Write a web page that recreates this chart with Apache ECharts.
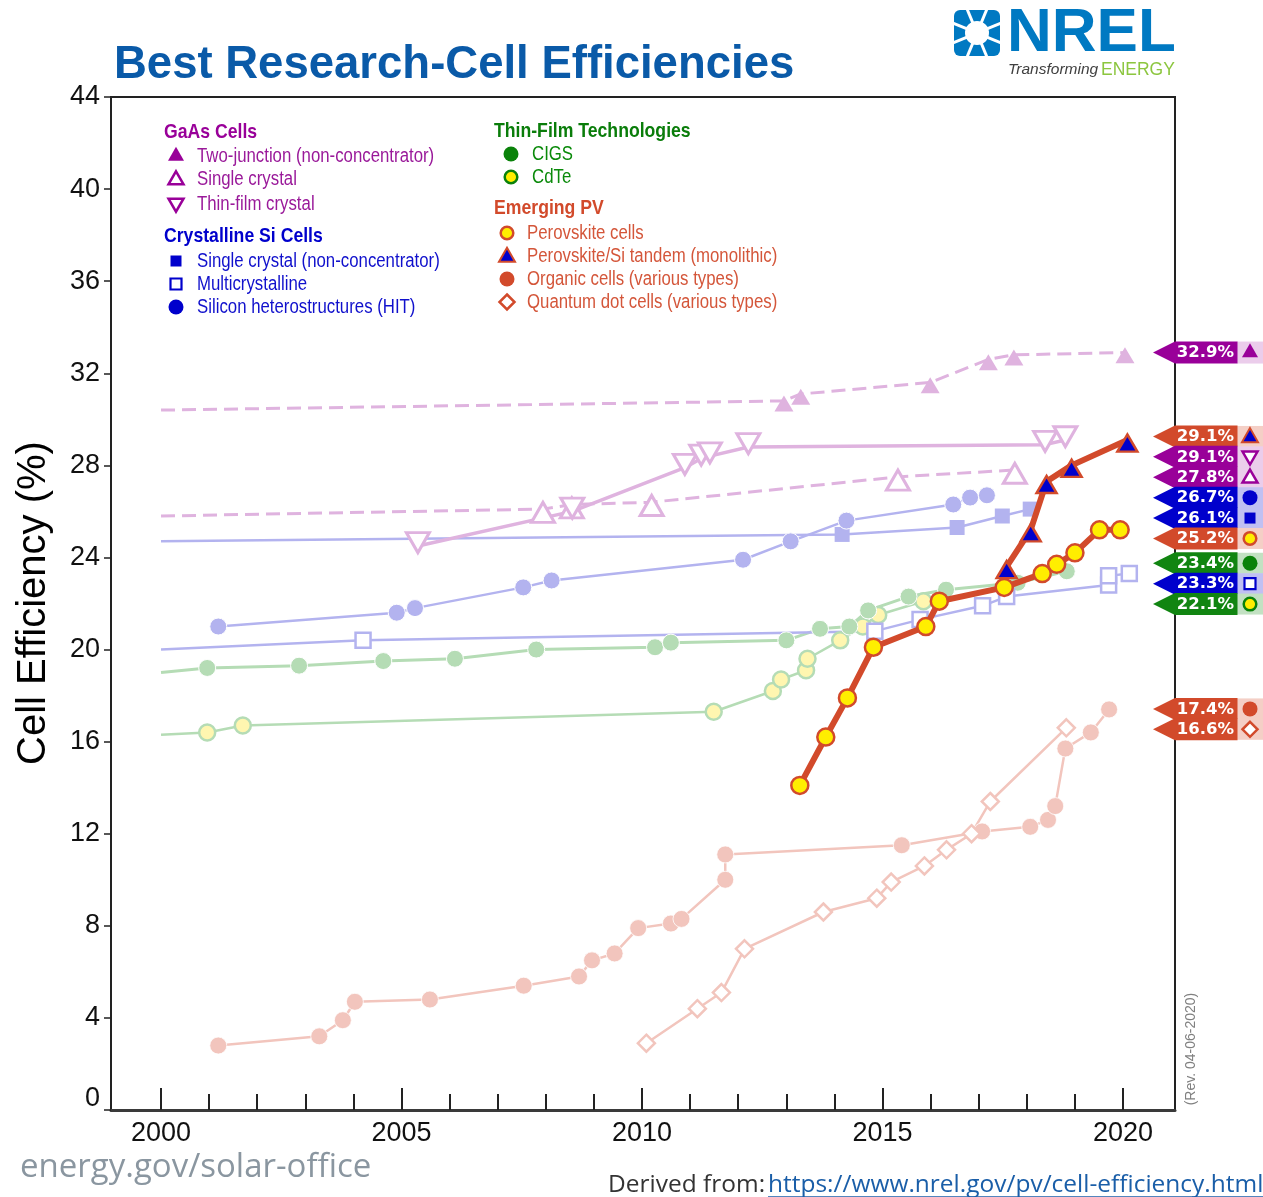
<!DOCTYPE html>
<html><head><meta charset="utf-8">
<script src="https://cdn.jsdelivr.net/npm/echarts@6/dist/echarts.min.js"></script>
<style>html,body{margin:0;padding:0;background:#fff}#main{width:1263px;height:1197px}</style>
</head><body><div id="main"></div>
<script>
// ---------------- data ----------------
const gaas2jYears = [2000, 2012.95, 2013.3, 2015.99, 2017.2, 2017.73, 2020.04];
const gaas2jEff   = [30.4, 30.8, 31.1, 31.6, 32.6, 32.8, 32.9];
const gaas1cYears = [2000, 2007.94, 2008.54, 2010.2, 2015.32, 2017.75];
const gaas1cEff   = [25.8, 26.1, 26.3, 26.4, 27.5, 27.8];
const gaastfYears = [2005.34, 2008.55, 2010.89, 2011.23, 2011.41, 2012.21, 2018.38, 2018.8];
const gaastfEff   = [24.5, 26.0, 27.9, 28.3, 28.4, 28.8, 28.9, 29.1];
const siscYears   = [2000, 2014.16, 2016.55, 2017.49, 2018.07];
const siscEff     = [24.7, 25.0, 25.3, 25.8, 26.1];
const simcYears   = [2000, 2004.2, 2014.84, 2015.78, 2017.08, 2017.58, 2019.7, 2019.7, 2020.13];
const simcEff     = [20.0, 20.4, 20.8, 21.3, 21.9, 22.3, 22.8, 23.2, 23.3];
const sihitYears  = [2001.19, 2004.9, 2005.28, 2007.53, 2008.12, 2012.1, 2013.09, 2014.25, 2016.47, 2016.82, 2017.17];
const sihitEff    = [21.0, 21.6, 21.8, 22.7, 23.0, 23.9, 24.7, 25.6, 26.3, 26.6, 26.7];
const cigsYears   = [2000, 2000.96, 2002.87, 2004.62, 2006.11, 2007.8, 2010.27, 2010.6, 2013.0, 2013.7, 2014.31, 2014.7, 2015.54, 2016.32, 2017.81, 2018.83];
const cigsEff     = [19.0, 19.2, 19.3, 19.5, 19.6, 20.0, 20.1, 20.3, 20.4, 20.9, 21.0, 21.7, 22.3, 22.6, 22.9, 23.4];
const cdteYears   = [2000, 2000.96, 2001.7, 2011.49, 2012.72, 2012.89, 2013.41, 2013.44, 2014.12, 2014.59, 2014.91, 2015.85];
const cdteEff     = [16.3, 16.4, 16.7, 17.3, 18.2, 18.7, 19.1, 19.6, 20.4, 21.0, 21.5, 22.1];
const perovYears  = [2013.28, 2013.82, 2014.27, 2014.81, 2015.9, 2016.18, 2017.53, 2018.32, 2018.62, 2019.0, 2019.51, 2019.94];
const perovEff    = [14.1, 16.2, 17.9, 20.1, 21.0, 22.1, 22.7, 23.3, 23.7, 24.2, 25.2, 25.2];
const tandemYears = [2017.58, 2018.08, 2018.41, 2018.93, 2020.09];
const tandemEff   = [23.6, 25.2, 27.3, 28.0, 29.1];
const organicYears = [2001.19, 2003.29, 2003.78, 2004.03, 2005.59, 2007.54, 2008.69, 2008.96, 2009.43, 2009.92, 2010.6, 2010.82, 2011.73, 2011.73, 2015.4, 2017.07, 2018.07, 2018.44, 2018.59, 2018.8, 2019.33, 2019.71];
const organicEff   = [2.8, 3.2, 3.9, 4.7, 4.8, 5.4, 5.8, 6.5, 6.8, 7.9, 8.1, 8.3, 10.0, 11.1, 11.5, 12.1, 12.3, 12.6, 13.2, 15.7, 16.4, 17.4];
const qdotYears   = [2010.09, 2011.15, 2011.65, 2012.13, 2013.77, 2014.88, 2015.18, 2015.87, 2016.33, 2016.85, 2017.24, 2018.82];
const qdotEff     = [2.9, 4.4, 5.1, 7.0, 8.6, 9.2, 9.9, 10.6, 11.3, 12.0, 13.4, 16.6];

const xTickYears  = [2000,2001,2002,2003,2004,2005,2006,2007,2008,2009,2010,2011,2012,2013,2014,2015,2016,2017,2018,2019,2020];
const xLabelYears = [2000, 2005, 2010, 2015, 2020];
const yTickValues = [0, 4, 8, 12, 16, 20, 24, 28, 32, 36, 40, 44];

const flagValues = [32.9, 29.1, 29.1, 27.8, 26.7, 26.1, 25.2, 23.4, 23.3, 22.1, 17.4, 16.6];
const flagKinds  = ['gaas2j', 'tandem', 'gaastf', 'gaas1c', 'sihit', 'sisc', 'perov', 'cigs', 'simc', 'cdte', 'organic', 'qdot'];

// ---------------- styling ----------------
const COL = {
  gaas: '#dfb3df', si: '#b3b3ef', green: '#b5dcb5', paleY: '#fff6b0', org: '#f2c5bd',
  red: '#d24a2b', yellow: '#ffee00', blue: '#0000cc', purple: '#990099', dgreen: '#0a820a'
};
const FONT = '"Liberation Sans", Arial, sans-serif';

function pts(xs, ys, leadIn) {
  return xs.map((x, i) => (leadIn && i === 0) ? { value: [x, ys[i]], symbol: 'none' } : [x, ys[i]]);
}
function mk(name, xs, ys, o) {
  return {
    type: 'line', name, data: pts(xs, ys, o.leadIn), silent: true, animation: false,
    emphasis: { disabled: true }, z: o.z || 2,
    symbol: o.symbol, symbolSize: o.size, symbolOffset: o.offset || [0, 0], symbolKeepAspect: false,
    lineStyle: { color: o.lc, width: o.lw, type: o.dash || 'solid' },
    itemStyle: { color: o.fill, borderColor: o.bc || o.fill, borderWidth: o.bw || 0 }
  };
}
const INV_TRI = 'path://M0,0L20,0L10,17Z';

const series = [
  mk('Organic', organicYears, organicEff, { symbol: 'circle', size: 17, lc: COL.org, lw: 2.5, fill: COL.org, bc: '#fff', bw: 0.8 }),
  mk('QD', qdotYears, qdotEff, { symbol: 'diamond', size: 17, lc: COL.org, lw: 2.5, fill: '#fff', bc: COL.org, bw: 2.5 }),
  mk('CdTe', cdteYears, cdteEff, { leadIn: true, symbol: 'circle', size: 16, lc: COL.green, lw: 2.5, fill: COL.paleY, bc: COL.green, bw: 2.5 }),
  mk('CIGS', cigsYears, cigsEff, { leadIn: true, symbol: 'circle', size: 17, lc: COL.green, lw: 3, fill: COL.green, bc: '#fff', bw: 1 }),
  mk('Multi', simcYears, simcEff, { leadIn: true, symbol: 'rect', size: 15, lc: COL.si, lw: 2.5, fill: '#fff', bc: COL.si, bw: 2.5 }),
  mk('SingleSi', siscYears, siscEff, { leadIn: true, symbol: 'rect', size: 15, lc: COL.si, lw: 2.5, fill: COL.si }),
  mk('HIT', sihitYears, sihitEff, { symbol: 'circle', size: 17, lc: COL.si, lw: 2.5, fill: COL.si, bc: '#fff', bw: 1 }),
  mk('GaAs1c', gaas1cYears, gaas1cEff, { leadIn: true, symbol: 'triangle', size: [23, 20], offset: [0, 3.3], lc: COL.gaas, lw: 3, dash: [14, 7], fill: '#fff', bc: COL.gaas, bw: 3 }),
  mk('GaAsTF', gaastfYears, gaastfEff, { symbol: INV_TRI, size: [23, 20], offset: [0, -3.3], lc: COL.gaas, lw: 3.5, fill: '#fff', bc: COL.gaas, bw: 3 }),
  mk('GaAs2j', gaas2jYears, gaas2jEff, { leadIn: true, symbol: 'triangle', size: [19, 16], offset: [0, 2.7], lc: COL.gaas, lw: 3, dash: [14, 7], fill: COL.gaas }),
  mk('Perovskite', perovYears, perovEff, { symbol: 'circle', size: 17, lc: COL.red, lw: 6, fill: COL.yellow, bc: COL.red, bw: 2.5, z: 5 }),
  mk('Tandem', tandemYears, tandemEff, { symbol: 'triangle', size: [20, 17], offset: [0, 3], lc: COL.red, lw: 6, fill: COL.blue, bc: COL.red, bw: 2.5, z: 6 })
];

const chart = echarts.init(document.getElementById('main'), null, { renderer: 'canvas', width: 1263, height: 1197 });

chart.setOption({
  animation: false,
  backgroundColor: '#fff',
  title: {
    text: 'Best Research-Cell Efficiencies', left: 109, top: 37,
    textStyle: { fontSize: 45.5, fontWeight: 'bold', color: '#0a5aa8', fontFamily: FONT }
  },
  grid: { left: 111, right: 88, top: 97, bottom: 87, show: true, borderColor: '#222', borderWidth: 2, backgroundColor: 'transparent' },
  xAxis: [{
    type: 'value', min: 1998.96, max: 2021.08, position: 'bottom',
    axisLine: { show: true, onZero: false, lineStyle: { color: '#3a3a3a', width: 3 } },
    axisTick: { show: true, inside: true, length: 22, customValues: xLabelYears, lineStyle: { color: '#222', width: 2 } },
    axisLabel: { show: true, customValues: xLabelYears, fontSize: 27, color: '#111', margin: 10, fontFamily: FONT, formatter: v => String(Math.round(v)) },
    splitLine: { show: false }
  }, {
    type: 'value', min: 1998.96, max: 2021.08, position: 'bottom', offset: 0,
    axisLine: { show: false, onZero: false },
    axisTick: { show: true, inside: true, length: 16, customValues: xTickYears, lineStyle: { color: '#222', width: 2 } },
    axisLabel: { show: false }, splitLine: { show: false }
  }],
  yAxis: {
    type: 'value', min: 0, max: 44, interval: 4,
    axisLine: { show: true, lineStyle: { color: '#222', width: 2 } },
    axisTick: { show: true, inside: false, length: 7, lineStyle: { color: '#222', width: 1.5 } },
    axisLabel: {
      fontSize: 27, color: '#111', margin: 11, fontFamily: FONT,
      formatter: v => v === 0 ? '{z|0}' : String(v),
      rich: { z: { fontSize: 27, color: '#111', fontFamily: FONT, padding: [0, 0, 22, 0] } }
    },
    splitLine: { show: false }
  },
  series
});

// ---------------- graphics: legend, flags, labels ----------------
const G = [];
function txt(x, y, text, o) {
  G.push({ type: 'text', x, y, scaleX: o.sx || 1, rotation: o.rot || 0, silent: true, z: 100,
    style: { text, fill: o.fill || '#000', fontSize: o.size || 16, fontFamily: o.font || FONT,
      fontWeight: o.weight || 'normal', fontStyle: o.style || 'normal', align: o.align || 'left', verticalAlign: 'middle' } });
}
function tri(cx, cy, w, h, fill, stroke, lw, down) {
  const p = down ? [[cx - w / 2, cy - h / 3], [cx + w / 2, cy - h / 3], [cx, cy + 2 * h / 3]]
                 : [[cx, cy - 2 * h / 3], [cx + w / 2, cy + h / 3], [cx - w / 2, cy + h / 3]];
  G.push({ type: 'polygon', silent: true, z: 101, shape: { points: p }, style: { fill, stroke: stroke || null, lineWidth: lw || 0, lineJoin: 'miter' } });
}
function circ(cx, cy, r, fill, stroke, lw) {
  G.push({ type: 'circle', silent: true, z: 101, shape: { cx, cy, r }, style: { fill, stroke: stroke || null, lineWidth: lw || 0 } });
}
function sq(cx, cy, s, fill, stroke, lw) {
  G.push({ type: 'rect', silent: true, z: 101, shape: { x: cx - s / 2, y: cy - s / 2, width: s, height: s }, style: { fill, stroke: stroke || null, lineWidth: lw || 0 } });
}
function dia(cx, cy, s, fill, stroke, lw) {
  G.push({ type: 'polygon', silent: true, z: 101, shape: { points: [[cx, cy - s / 2], [cx + s / 2, cy], [cx, cy + s / 2], [cx - s / 2, cy]] }, style: { fill, stroke, lineWidth: lw } });
}
function symbolFor(kind, cx, cy) {
  switch (kind) {
    case 'gaas2j': tri(cx, cy, 16, 14, COL.purple); break;
    case 'gaas1c': tri(cx, cy + 1, 15, 13, '#fff', COL.purple, 2.5); break;
    case 'gaastf': tri(cx, cy - 1, 15, 13, '#fff', COL.purple, 2.5, true); break;
    case 'sisc': sq(cx, cy, 11, COL.blue); break;
    case 'simc': sq(cx, cy, 11, '#fff', COL.blue, 2.2); break;
    case 'sihit': circ(cx, cy, 7.5, COL.blue); break;
    case 'cigs': circ(cx, cy, 7.5, COL.dgreen); break;
    case 'cdte': circ(cx, cy, 6.3, COL.yellow, COL.dgreen, 2.5); break;
    case 'perov': circ(cx, cy, 6.3, COL.yellow, COL.red, 2.5); break;
    case 'tandem': tri(cx, cy + 1, 16, 14, COL.blue, COL.red, 2); break;
    case 'organic': circ(cx, cy, 7.5, COL.red); break;
    case 'qdot': dia(cx, cy, 15, '#fff', COL.red, 2.5); break;
  }
}

// legend
const SX = 0.84;
txt(164, 132, 'GaAs Cells', { fill: COL.purple, size: 21, weight: 'bold', sx: SX });
[['gaas2j', 'Two-junction (non-concentrator)', 156], ['gaas1c', 'Single crystal', 179], ['gaastf', 'Thin-film crystal', 204]]
  .forEach(([k, t, y]) => { symbolFor(k, 176, y); txt(197, y, t, { fill: '#9a1a9a', size: 20, sx: SX }); });
txt(164, 236, 'Crystalline Si Cells', { fill: COL.blue, size: 21, weight: 'bold', sx: SX });
[['sisc', 'Single crystal (non-concentrator)', 261], ['simc', 'Multicrystalline', 284], ['sihit', 'Silicon heterostructures (HIT)', 307]]
  .forEach(([k, t, y]) => { symbolFor(k, 176, y); txt(197, y, t, { fill: '#1010cc', size: 20, sx: SX }); });
txt(494, 131, 'Thin-Film Technologies', { fill: '#0a7d0a', size: 21, weight: 'bold', sx: SX });
[['cigs', 'CIGS', 154], ['cdte', 'CdTe', 177]]
  .forEach(([k, t, y]) => { symbolFor(k, 511, y); txt(532, y, t, { fill: '#0a8a0a', size: 20, sx: SX }); });
txt(494, 208, 'Emerging PV', { fill: COL.red, size: 21, weight: 'bold', sx: SX });
[['perov', 'Perovskite cells', 233], ['tandem', 'Perovskite/Si tandem (monolithic)', 256], ['organic', 'Organic cells (various types)', 279], ['qdot', 'Quantum dot cells (various types)', 302]]
  .forEach(([k, t, y]) => { symbolFor(k, 507, y); txt(527, y, t, { fill: '#d4563a', size: 20, sx: SX }); });

// right-side record flags: placed at their values, spread apart to avoid overlap
const FLAG_STYLE = {
  gaas2j: ['#990099', '#ebcdeb'], gaas1c: ['#990099', '#ebcdeb'], gaastf: ['#990099', '#ebcdeb'],
  tandem: ['#d24a2b', '#f4cfc6'], perov: ['#d24a2b', '#f4cfc6'], organic: ['#d24a2b', '#f4cfc6'], qdot: ['#d24a2b', '#f4cfc6'],
  sisc: ['#0000cc', '#c0c0f2'], simc: ['#0000cc', '#c0c0f2'], sihit: ['#0000cc', '#c0c0f2'],
  cigs: ['#118511', '#c2e1c2'], cdte: ['#118511', '#c2e1c2']
};
const GAP = 20.4;
const ideal = flagValues.map(v => chart.convertToPixel({ yAxisIndex: 0 }, v));
// (a) push-down layout
const pushed = [];
ideal.forEach((p, i) => { pushed[i] = i === 0 ? p : Math.max(p, pushed[i - 1] + GAP); });
// (b) centred clusters
let clusters = ideal.map((p, i) => ({ idx: [i], pos: [p] }));
let changed = true;
while (changed) {
  changed = false;
  for (let c = 0; c < clusters.length - 1; c++) {
    const a = clusters[c], b = clusters[c + 1];
    if (b.pos[0] - a.pos[a.pos.length - 1] < GAP * 1.5) {
      const idx = a.idx.concat(b.idx);
      const mean = idx.reduce((s, i) => s + ideal[i], 0) / idx.length;
      const pos = idx.map((_, k) => mean + (k - (idx.length - 1) / 2) * GAP);
      clusters.splice(c, 2, { idx, pos });
      changed = true; break;
    }
  }
}
const centred = [], single = [];
clusters.forEach(c => c.idx.forEach((i, k) => { centred[i] = c.pos[k]; single[i] = c.idx.length === 1; }));
const placed = ideal.map((_, i) => (pushed[i] + centred[i]) / 2);

const TIP = 1153, BODY = 1175, RIGHT = 1237, BOXR = 1263, HH = 11;
flagValues.forEach((v, i) => {
  const cy = placed[i], [fc, bc] = FLAG_STYLE[flagKinds[i]];
  const bh = single[i] ? 22 : GAP + 0.6;
  G.push({ type: 'rect', silent: true, z: 100 + i * 0.01, shape: { x: RIGHT, y: cy - bh / 2, width: BOXR - RIGHT, height: bh }, style: { fill: bc } });
  G.push({ type: 'polygon', silent: true, z: 100 + i * 0.01, shape: { points: [[TIP, cy], [BODY, cy - HH], [RIGHT + 0.5, cy - HH], [RIGHT + 0.5, cy + HH], [BODY, cy + HH]] }, style: { fill: fc } });
  G.push({ type: 'text', silent: true, z: 102, x: 1234, y: cy + 0.5, style: { text: v.toFixed(1) + '%', fill: '#fff', fontSize: 16.5, fontWeight: 'bold', fontFamily: '"DejaVu Sans", Verdana, sans-serif', align: 'right', verticalAlign: 'middle' } });
  symbolFor(flagKinds[i], 1250, cy);
});

// axis title
txt(34, 603, 'Cell Efficiency (%)', { size: 40, align: 'center', rot: Math.PI / 2, fill: '#000' });
// revision note
txt(1191, 1049, '(Rev. 04-06-2020)', { size: 14, align: 'center', rot: Math.PI / 2, fill: '#808080' });

// NREL logo
const LX = 977, LY = 33;
G.push({ type: 'rect', silent: true, z: 100, shape: { x: LX - 23, y: LY - 23, width: 46, height: 46, r: 6 }, style: { fill: '#0079c2' } });
G.push({ type: 'circle', silent: true, z: 101, shape: { cx: LX, cy: LY, r: 12 }, style: { fill: '#fff' } });
for (let k = 0; k < 8; k++) {
  const a = Math.PI / 8 + k * Math.PI / 4;
  G.push({ type: 'line', silent: true, z: 101, shape: { x1: LX + 10 * Math.cos(a), y1: LY + 10 * Math.sin(a), x2: LX + 26 * Math.cos(a), y2: LY + 26 * Math.sin(a) }, style: { stroke: '#fff', lineWidth: 3 } });
}
txt(1007, 34, 'NREL', { size: 62, weight: 'bold', fill: '#0079c2' });
txt(1008, 70, 'Transforming', { size: 15.5, style: 'italic', fill: '#404040' });
txt(1101, 70, 'ENERGY', { size: 17.5, fill: '#8cc63f' });

// footer
txt(20, 1168, 'energy.gov/solar-office', { size: 33, font: '"Open Sans", sans-serif', fill: '#8a96a0' });
txt(608, 1185, 'Derived from:', { size: 24, font: '"Open Sans", sans-serif', fill: '#333', sx: 1.02 });
const URL_TXT = 'https://www.nrel.gov/pv/cell-efficiency.html';
txt(768, 1185, URL_TXT, { size: 24, font: '"Open Sans", sans-serif', fill: '#1a5ea8', sx: 1.02 });
const ctx = document.createElement('canvas').getContext('2d');
ctx.font = '24px "Open Sans"';
const uw = ctx.measureText(URL_TXT).width * 1.02;
G.push({ type: 'line', silent: true, z: 100, shape: { x1: 768, y1: 1197, x2: 768 + uw, y2: 1197 }, style: { stroke: '#1a5ea8', lineWidth: 1.5 } });

chart.setOption({ graphic: { elements: G } });
</script>
</body></html>
